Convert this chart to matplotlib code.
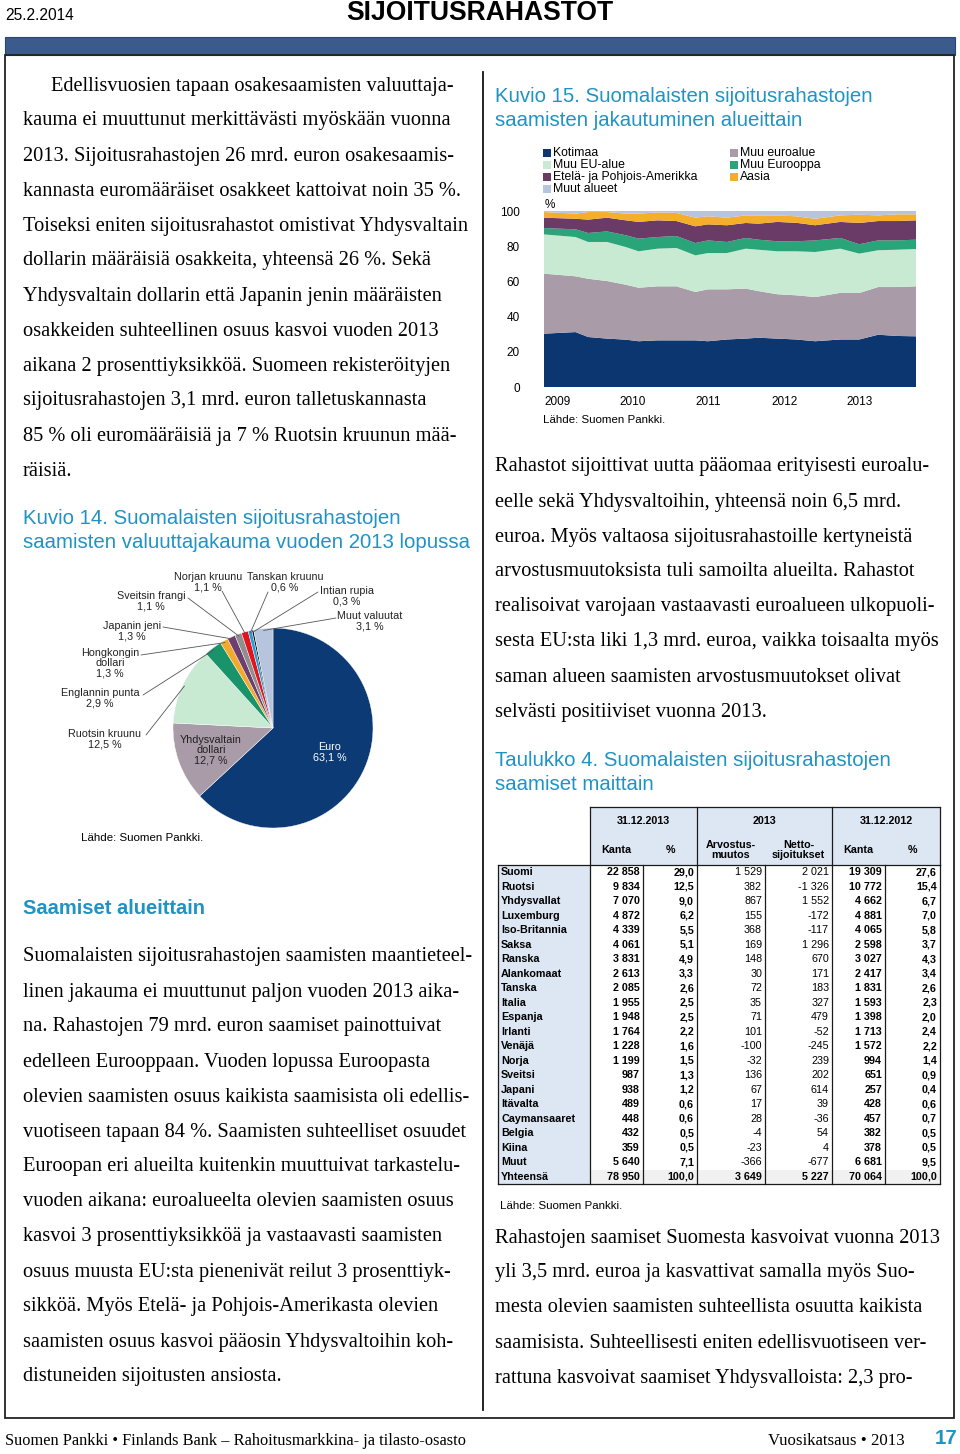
import matplotlib
matplotlib.use("Agg")
import matplotlib.pyplot as plt
from matplotlib.patches import Rectangle
from matplotlib.lines import Line2D
import numpy as np

# ---------------- data ----------------
pie_labels = ["Euro", "Yhdysvaltain\ndollari", "Ruotsin kruunu", "Englannin punta",
              "Hongkongin\ndollari", "Japanin jeni", "Sveitsin frangi", "Norjan kruunu",
              "Tanskan kruunu", "Intian rupia", "Muut valuutat"]
pie_values = [63.1, 12.7, 12.5, 2.9, 1.3, 1.3, 1.1, 1.1, 0.6, 0.3, 3.1]
pie_colors = ["#0c3a74", "#aa9ba8", "#c8ead3", "#19936a", "#f3aa2a", "#6e3f6c",
              "#8f8f92", "#e4141c", "#1ea0dc", "#111111", "#b7c4de"]

months = [0, 5, 7, 10, 13, 15, 18, 21, 24, 26, 29, 32, 34, 37, 40, 43, 47, 50, 53, 56, 59]
kotimaa      = [30.3, 31.2, 28.4, 27.5, 26.9, 26.0, 26.5, 26.5, 26.5, 26.0, 27.0, 27.5, 28.0, 27.5, 27.0, 26.0, 27.0, 27.0, 29.7, 29.0, 28.8]
muu_euro     = [34.1, 31.7, 33.1, 32.7, 31.2, 30.4, 30.7, 30.7, 27.5, 29.5, 28.5, 28.4, 26.5, 25.2, 25.1, 25.1, 26.5, 26.4, 27.1, 27.8, 28.4]
muu_eu       = [22.3, 22.3, 20.9, 22.2, 21.4, 20.7, 21.4, 21.8, 20.8, 20.6, 20.6, 22.7, 23.5, 24.4, 25.0, 25.6, 25.1, 22.4, 20.9, 21.2, 21.2]
muu_eurooppa = [3.6, 4.4, 5.1, 6.0, 6.7, 7.2, 6.6, 6.8, 7.0, 7.2, 6.3, 6.1, 5.7, 5.7, 5.7, 6.6, 6.1, 5.3, 5.6, 5.3, 5.3]
amerikka     = [5.9, 6.0, 7.6, 7.8, 8.5, 9.5, 9.5, 8.5, 9.5, 9.1, 9.5, 8.5, 9.1, 11.0, 10.5, 8.6, 9.1, 12.1, 11.0, 11.0, 11.0]
aasia        = [3.2, 2.9, 4.3, 3.2, 3.8, 4.7, 4.5, 4.6, 4.9, 4.6, 4.3, 4.3, 4.7, 3.7, 3.7, 3.7, 3.7, 4.7, 3.2, 3.8, 3.4]
muut_alueet  = [0.6, 1.5, 0.6, 0.6, 1.5, 1.5, 0.8, 1.1, 3.8, 3.0, 3.8, 2.5, 2.5, 2.5, 3.0, 4.4, 2.5, 2.1, 2.5, 1.9, 1.9]
area_names = ["Kotimaa", "Muu euroalue", "Muu EU-alue", "Muu Eurooppa",
              "Etelä- ja Pohjois-Amerikka", "Aasia", "Muut alueet"]
area_colors = ["#0b3670", "#aa9ba8", "#c8ead3", "#2aa57a", "#6b3b68", "#f4ae2a", "#b8c4de"]
year_labels = ["2009", "2010", "2011", "2012", "2013"]
year_ticks = [0, 12, 24, 36, 48]

tbl_rows = ["Suomi", "Ruotsi", "Yhdysvallat", "Luxemburg", "Iso-Britannia", "Saksa", "Ranska",
            "Alankomaat", "Tanska", "Italia", "Espanja", "Irlanti", "Venäjä", "Norja", "Sveitsi",
            "Japani", "Itävalta", "Caymansaaret", "Belgia", "Kiina", "Muut", "Yhteensä"]
kanta13 = [22858, 9834, 7070, 4872, 4339, 4061, 3831, 2613, 2085, 1955, 1948, 1764, 1228, 1199,
           987, 938, 489, 448, 432, 359, 5640, 78950]
pct13 = [29.0, 12.5, 9.0, 6.2, 5.5, 5.1, 4.9, 3.3, 2.6, 2.5, 2.5, 2.2, 1.6, 1.5, 1.3, 1.2, 0.6,
         0.6, 0.5, 0.5, 7.1, 100.0]
arvostus = [1529, 382, 867, 155, 368, 169, 148, 30, 72, 35, 71, 101, -100, -32, 136, 67, 17, 28,
            -4, -23, -366, 3649]
netto = [2021, -1326, 1552, -172, -117, 1296, 670, 171, 183, 327, 479, -52, -245, 239, 202, 614,
         39, -36, 54, 4, -677, 5227]
kanta12 = [19309, 10772, 4662, 4881, 4065, 2598, 3027, 2417, 1831, 1593, 1398, 1713, 1572, 994,
           651, 257, 428, 457, 382, 378, 6681, 70064]
pct12 = [27.6, 15.4, 6.7, 7.0, 5.8, 3.7, 4.3, 3.4, 2.6, 2.3, 2.0, 2.4, 2.2, 1.4, 0.9, 0.4, 0.6,
         0.7, 0.5, 0.5, 9.5, 100.0]

para1 = ["Edellisvuosien tapaan osakesaamisten valuuttaja-",
         "kauma ei muuttunut merkittävästi myöskään vuonna",
         "2013. Sijoitusrahastojen 26 mrd. euron osakesaamis-",
         "kannasta euromääräiset osakkeet kattoivat noin 35 %.",
         "Toiseksi eniten sijoitusrahastot omistivat Yhdysvaltain",
         "dollarin määräisiä osakkeita, yhteensä 26 %. Sekä",
         "Yhdysvaltain dollarin että Japanin jenin määräisten",
         "osakkeiden suhteellinen osuus kasvoi vuoden 2013",
         "aikana 2 prosenttiyksikköä. Suomeen rekisteröityjen",
         "sijoitusrahastojen 3,1 mrd. euron talletuskannasta",
         "85 % oli euromääräisiä ja 7 % Ruotsin kruunun mää-",
         "räisiä."]
para2 = ["Suomalaisten sijoitusrahastojen saamisten maantieteel-",
         "linen jakauma ei muuttunut paljon vuoden 2013 aika-",
         "na. Rahastojen 79 mrd. euron saamiset painottuivat",
         "edelleen Eurooppaan. Vuoden lopussa Euroopasta",
         "olevien saamisten osuus kaikista saamisista oli edellis-",
         "vuotiseen tapaan 84 %. Saamisten suhteelliset osuudet",
         "Euroopan eri alueilta kuitenkin muuttuivat tarkastelu-",
         "vuoden aikana: euroalueelta olevien saamisten osuus",
         "kasvoi 3 prosenttiyksikköä ja vastaavasti saamisten",
         "osuus muusta EU:sta pienenivät reilut 3 prosenttiyk-",
         "sikköä. Myös Etelä- ja Pohjois-Amerikasta olevien",
         "saamisten osuus kasvoi pääosin Yhdysvaltoihin koh-",
         "distuneiden sijoitusten ansiosta."]
para3 = ["Rahastot sijoittivat uutta pääomaa erityisesti euroalu-",
         "eelle sekä Yhdysvaltoihin, yhteensä noin 6,5 mrd.",
         "euroa. Myös valtaosa sijoitusrahastoille kertyneistä",
         "arvostusmuutoksista tuli samoilta alueilta. Rahastot",
         "realisoivat varojaan vastaavasti euroalueen ulkopuoli-",
         "sesta EU:sta liki 1,3 mrd. euroa, vaikka toisaalta myös",
         "saman alueen saamisten arvostusmuutokset olivat",
         "selvästi positiiviset vuonna 2013."]
para4 = ["Rahastojen saamiset Suomesta kasvoivat vuonna 2013",
         "yli 3,5 mrd. euroa ja kasvattivat samalla myös Suo-",
         "mesta olevien saamisten suhteellista osuutta kaikista",
         "saamisista. Suhteellisesti eniten edellisvuotiseen ver-",
         "rattuna kasvoivat saamiset Yhdysvalloista: 2,3 pro-"]

# ---------------- helpers ----------------
W, H = 960, 1454
fig = plt.figure(figsize=(W / 100, H / 100), dpi=100)
fig.patch.set_facecolor("white")

SERIF = ["Liberation Serif", "DejaVu Serif"]
SANS = ["Liberation Sans", "DejaVu Sans"]
TITLE_BLUE = "#1f93c3"


def X(x):
    return x / W


def Y(y):
    return 1 - y / H


def pt(px):
    return px * 0.72


def txt(x, y, s, px, family=SANS, **kw):
    kw.setdefault("va", "center")
    kw.setdefault("ha", "left")
    return fig.text(X(x), Y(y), s, fontsize=pt(px), family=family, **kw)


def rect(x0, y0, x1, y1, **kw):
    r = Rectangle((X(x0), Y(y1)), (x1 - x0) / W, (y1 - y0) / H,
                  transform=fig.transFigure, **kw)
    fig.add_artist(r)


def line(x0, y0, x1, y1, **kw):
    fig.add_artist(Line2D([X(x0), X(x1)], [Y(y0), Y(y1)], transform=fig.transFigure, **kw))


# ---------------- page frame ----------------
txt(5, 15, "25.2.2014", 15.5)
txt(480, 13, "SIJOITUSRAHASTOT", 26.5, weight="bold", ha="center")
rect(5, 37, 955, 55, facecolor="#3b5b8d", edgecolor="#2c4670", lw=0.8)
rect(5, 55, 954, 1418, facecolor="none", edgecolor="#222222", lw=1.3)
line(483, 72, 483, 1410, color="#111111", lw=1.3)

# ---------------- body text ----------------
BODY_PX = 20.4
for i, s in enumerate(para1):
    txt(51 if i == 0 else 23, 86 + 35 * i, s, BODY_PX, family=SERIF)
for i, s in enumerate(para2):
    txt(23, 957 + 35 * i, s, BODY_PX, family=SERIF)
for i, s in enumerate(para3):
    txt(495, 467 + 35 * i, s, BODY_PX, family=SERIF)
for i, s in enumerate(para4):
    txt(495, 1238 + 35 * i, s, BODY_PX, family=SERIF)

TPX = 20.4
txt(23, 519, "Kuvio 14. Suomalaisten sijoitusrahastojen", TPX, color=TITLE_BLUE)
txt(23, 543, "saamisten valuuttajakauma vuoden 2013 lopussa", TPX, color=TITLE_BLUE)
txt(23, 909, "Saamiset alueittain", 20.2, color=TITLE_BLUE, weight="bold")
txt(495, 97, "Kuvio 15. Suomalaisten sijoitusrahastojen", TPX, color=TITLE_BLUE)
txt(495, 121, "saamisten jakautuminen alueittain", TPX, color=TITLE_BLUE)
txt(495, 760, "Taulukko 4. Suomalaisten sijoitusrahastojen", TPX, color=TITLE_BLUE)
txt(495, 784, "saamiset maittain", TPX, color=TITLE_BLUE)

SRC_PX = 11.5
txt(81, 838, "Lähde: Suomen Pankki.", SRC_PX)
txt(543, 420, "Lähde: Suomen Pankki.", SRC_PX)
txt(500, 1206, "Lähde: Suomen Pankki.", SRC_PX)

# footer
txt(5, 1441, "Suomen Pankki • Finlands Bank – Rahoitusmarkkina- ja tilasto-osasto", 16.4, family=SERIF)
txt(905, 1441, "Vuosikatsaus • 2013", 16.8, family=SERIF, ha="right")
txt(957, 1439, "17", 20.5, weight="bold", color=TITLE_BLUE, ha="right")

# ---------------- pie chart ----------------
cx, cy, R = 273, 728, 100
axp = fig.add_axes([X(cx - R), Y(cy + R), 2 * R / W, 2 * R / H])
wedges, _ = axp.pie(pie_values, colors=pie_colors, startangle=90, counterclock=False,
                    radius=1.0, wedgeprops=dict(linewidth=0.3, edgecolor="white"))
axp.set_xlim(-1, 1)
axp.set_ylim(-1, 1)
axp.set_aspect("equal")
axp.axis("off")

PIE_PX = 10.7
# label block centres, leader start (pixels); None = inside label
pie_layout = [
    ((330, 752), None, "white"),
    ((211, 750), None, "#222222"),
    ((105, 739.5), (146, 735), "#222222"),
    ((100, 698.5), (143, 695), "#222222"),
    ((110, 663.5), (141, 655), "#222222"),
    ((132, 631.5), (163, 627), "#222222"),
    ((151, 601), (188, 598), "#222222"),
    ((208, 582.5), (222, 591), "#222222"),
    ((285, 582.5), (268, 592), "#222222"),
    ((347, 596), (318, 592), "#222222"),
    ((370, 621.5), (336, 618), "#222222"),
]
for w, lab, val, (tpos, lead, col) in zip(wedges, pie_labels, pie_values, pie_layout):
    s = lab + "\n" + f"{val:.1f}".replace(".", ",") + " %"
    txt(tpos[0], tpos[1], s, PIE_PX, ha="center", color=col, multialignment="center",
        linespacing=1.05)
    if lead is not None:
        ang = np.deg2rad((w.theta1 + w.theta2) / 2)
        r = 0.98
        axp.annotate("", xy=(r * np.cos(ang), r * np.sin(ang)), xycoords="data",
                     xytext=(X(lead[0]), Y(lead[1])), textcoords="figure fraction",
                     arrowprops=dict(arrowstyle="-", color="#555555", lw=0.6,
                                     shrinkA=0, shrinkB=0), annotation_clip=False)

# ---------------- stacked area chart ----------------
ax = fig.add_axes([X(544), Y(387), (916 - 544) / W, (387 - 211) / H])
series = [kotimaa, muu_euro, muu_eu, muu_eurooppa, amerikka, aasia, muut_alueet]
ax.stackplot(months, *series, colors=area_colors, linewidth=0, labels=area_names)
ax.set_xlim(months[0], months[-1])
ax.set_ylim(0, 100)
for sp in ax.spines.values():
    sp.set_visible(False)
ax.set_yticks([0, 20, 40, 60, 80, 100])
ax.set_yticklabels(["0", "20", "40", "60", "80", "100"], fontsize=pt(11.8), family=SANS)
ax.tick_params(axis="y", length=0, pad=pt(24))
ax.set_xticks(year_ticks)
ax.set_xticklabels(year_labels, fontsize=pt(11.8), family=SANS, ha="left")
ax.tick_params(axis="x", length=0, pad=pt(9))
txt(545, 205, "%", 11.8)

# legend (manual layout)
leg_pos = [(547, 153), (734, 153), (547, 165), (734, 165), (547, 177), (734, 177), (547, 189)]
for (lx, ly), name, col in zip(leg_pos, area_names, area_colors):
    rect(lx - 4, ly - 4, lx + 4, ly + 4, facecolor=col, edgecolor="none")
    txt(lx + 6, ly, name, 12.3)

# ---------------- table ----------------
col_edges = [498, 590, 643, 697, 765, 832, 885, 940]
top_h, mid_h, data_top, data_bot = 807, 836, 865, 1184
nrows = len(tbl_rows)
rh = (data_bot - data_top) / nrows
HDR_BG = "#dde7f3"
rect(590, top_h, 940, data_top, facecolor=HDR_BG, edgecolor="none")
rect(498, data_top, 590, data_bot, facecolor=HDR_BG, edgecolor="none")
rect(590, data_bot - rh, 940, data_bot, facecolor="#f1f1f1", edgecolor="none")
LC = "#1a1a1a"
LW = 0.9
for xe in [590, 697, 832, 940]:
    line(xe, top_h, xe, data_top, color=LC, lw=LW)
line(590, top_h, 940, top_h, color=LC, lw=LW)
for xe in col_edges:
    line(xe, data_top, xe, data_bot, color=LC, lw=LW)
line(498, data_top, 940, data_top, color=LC, lw=LW)
line(498, data_bot, 940, data_bot, color=LC, lw=LW)

TB = 10.8
txt((590 + 697) / 2, 821, "31.12.2013", TB, weight="bold", ha="center")
txt((697 + 832) / 2, 821, "2013", TB, weight="bold", ha="center")
txt((832 + 940) / 2, 821, "31.12.2012", TB, weight="bold", ha="center")
txt((590 + 643) / 2, 850, "Kanta", TB, weight="bold", ha="center")
txt((643 + 697) / 2, 850, "%", TB, weight="bold", ha="center")
txt((697 + 765) / 2, 850, "Arvostus-\nmuutos", TB, weight="bold", ha="center", linespacing=1.1)
txt((765 + 832) / 2, 850, "Netto-\nsijoitukset", TB, weight="bold", ha="center", linespacing=1.1)
txt((832 + 885) / 2, 850, "Kanta", TB, weight="bold", ha="center")
txt((885 + 940) / 2, 850, "%", TB, weight="bold", ha="center")


def fint(v):
    s = f"{abs(v):,}".replace(",", " ")
    return ("-" if v < 0 else "") + s


def fpct(v):
    return f"{v:.1f}".replace(".", ",")


for i, name in enumerate(tbl_rows):
    yc = data_top + rh * (i + 0.5)
    last = i == nrows - 1
    txt(501, yc, name, TB, weight="bold")
    vals = [(fint(kanta13[i]), True), (fpct(pct13[i]), True),
            (fint(arvostus[i]), last), (fint(netto[i]), last),
            (fint(kanta12[i]), True), (fpct(pct12[i]), True)]
    for j, (s, bold) in enumerate(vals):
        txt(col_edges[j + 2] - 3, yc, s, TB, ha="right",
            weight="bold" if bold else "normal")

fig.savefig("out.png", dpi=100, facecolor="white")
